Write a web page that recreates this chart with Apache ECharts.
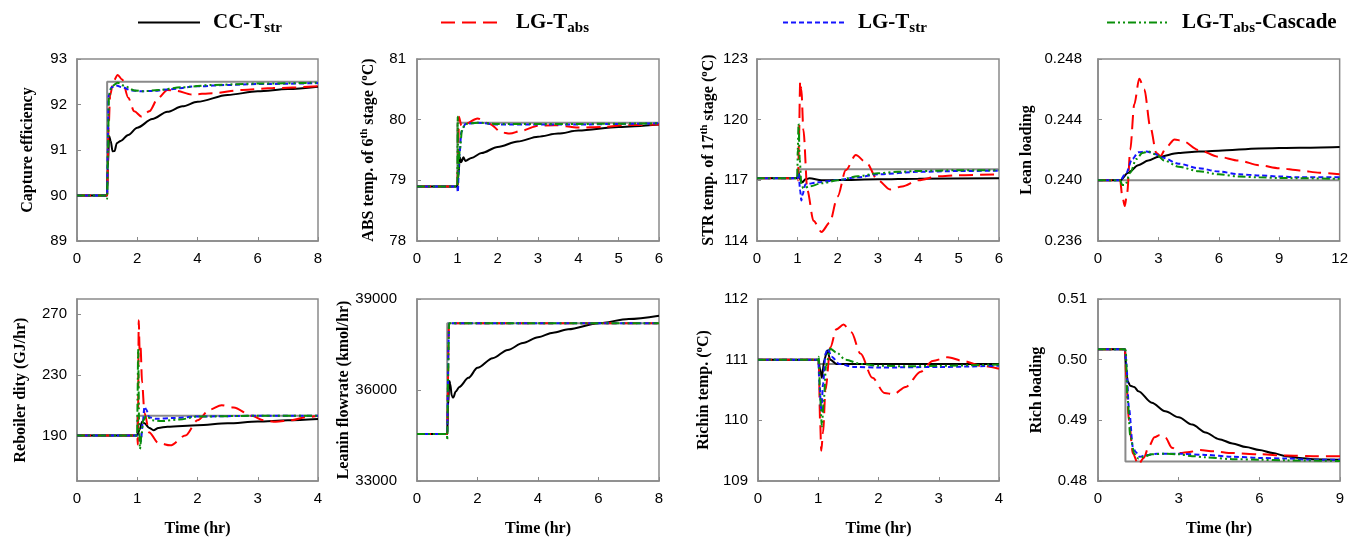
<!DOCTYPE html>
<html>
<head>
<meta charset="utf-8">
<script src="https://cdn.jsdelivr.net/npm/echarts@6/dist/echarts.min.js"></script>
<style>html,body{margin:0;padding:0;background:#fff}#c{width:1351px;height:540px}</style>
</head>
<body>
<div id="c"></div>
<script>
// ---------------- DATA ----------------
const seriesNames = ['CC-Tstr', 'LG-Tabs', 'LG-Tstr', 'LG-Tabs-Cascade'];

// Panel 1: Capture efficiency
const p1_set = [[0,90],[1,90],[1,92.5],[8,92.5]];
const p1_cc = [[0,90],[1,90],[1.02,90.6],[1.07,91.3],[1.12,91.2],[1.18,90.97],[1.25,90.98],[1.32,91.15],[1.45,91.2],[1.7,91.33],[2,91.49],[2.5,91.68],[3,91.84],[3.5,91.96],[4,92.06],[5,92.21],[6,92.29],[7,92.34],[8,92.39]];
const p1_tabs = [[0,90],[1,90],[1.05,91.5],[1.1,92.2],[1.2,92.5],[1.35,92.65],[1.5,92.55],[1.7,92.15],[1.9,91.85],[2.15,91.73],[2.4,91.85],[2.7,92.15],[3,92.32],[3.3,92.3],[3.8,92.22],[4.5,92.25],[5.5,92.32],[6.5,92.36],[8,92.4]];
const p1_tstr = [[0,90],[1,90],[1.02,91],[1.05,92.2],[1.15,92.38],[1.3,92.42],[1.5,92.38],[1.8,92.31],[2.1,92.29],[2.6,92.3],[3,92.33],[4,92.4],[5,92.43],[6,92.45],[8,92.47]];
const p1_casc = [[0,90],[0.99,90],[1,89.93],[1.03,91],[1.06,92.2],[1.15,92.4],[1.35,92.48],[1.6,92.4],[1.9,92.31],[2.2,92.29],[2.7,92.32],[3.5,92.38],[4.5,92.43],[6,92.46],[8,92.48]];

// Panel 2: ABS temp. of 6th stage
const p2_set = [[0,78.9],[1,78.9],[1,79.95],[6,79.95]];
const p2_cc = [[0,78.9],[1,78.9],[1.03,79.1],[1.06,79.38],[1.1,79.3],[1.15,79.38],[1.2,79.32],[1.35,79.37],[1.6,79.45],[2,79.55],[2.5,79.64],[3,79.72],[3.5,79.77],[4,79.82],[5,79.88],[6,79.92]];
const p2_tabs = [[0,78.9],[1,78.9],[1.02,79.4],[1.04,80.05],[1.1,79.9],[1.2,79.93],[1.5,80.02],[1.8,79.93],[2.1,79.79],[2.3,79.77],[2.6,79.82],[3,79.9],[3.4,79.91],[4,79.87],[4.6,79.88],[5.2,79.91],[6,79.92]];
const p2_tstr = [[0,78.9],[1,78.9],[1.01,78.8],[1.05,79.4],[1.1,79.8],[1.2,79.93],[1.5,79.95],[2,79.92],[3,79.92],[4,79.92],[5,79.93],[6,79.94]];
const p2_casc = [[0,78.9],[1,78.9],[1.01,80.05],[1.02,79.05],[1.06,79.5],[1.12,79.85],[1.2,79.93],[1.5,79.95],[2,79.93],[3,79.93],[4,79.93],[6,79.94]];

// Panel 3: STR temp. of 17th stage
const p3_set = [[0,117.12],[1,117.12],[1,117.55],[6,117.55]];
const p3_cc = [[0,117.1],[1,117.1],[1.03,117.4],[1.08,117.0],[1.12,116.9],[1.2,117.05],[1.3,117.1],[1.6,117.0],[2,117.02],[3,117.05],[4,117.08],[6,117.1]];
const p3_tabs = [[0,117.1],[1,117.1],[1.02,117],[1.04,119],[1.07,121.9],[1.1,121.5],[1.15,119.5],[1.25,116.5],[1.4,115],[1.6,114.45],[1.8,114.9],[2,116.2],[2.2,117.5],[2.45,118.25],[2.7,117.9],[3,117],[3.3,116.55],[3.6,116.7],[4,117.0],[4.5,117.2],[5,117.25],[6,117.3]];
const p3_tstr = [[0,117.1],[1,117.1],[1.03,117.4],[1.07,116.5],[1.1,116.0],[1.13,116.3],[1.2,116.8],[1.5,116.9],[2,117.02],[2.5,117.15],[3,117.3],[4,117.42],[5,117.46],[6,117.48]];
const p3_casc = [[0,117.1],[1,117.1],[1.01,118.5],[1.03,119.8],[1.06,118],[1.1,116.8],[1.15,116.6],[1.3,116.7],[1.6,116.85],[2,117.0],[2.5,117.2],[3,117.35],[3.5,117.42],[4,117.46],[5,117.5],[6,117.5]];

// Panel 4: Lean loading
const p4_set = [[0,0.24],[12,0.24]];
const p4_cc = [[0,0.24],[1.1,0.24],[1.5,0.2405],[2,0.2410],[2.5,0.2413],[3,0.24155],[4,0.2418],[5,0.2419],[6,0.24195],[8,0.2421],[10,0.24215],[12,0.2422]];
const p4_tabs = [[0,0.24],[1.1,0.24],[1.2,0.2390],[1.33,0.2383],[1.45,0.2392],[1.6,0.2420],[1.8,0.2450],[2.05,0.2467],[2.3,0.2460],[2.6,0.2435],[2.9,0.2418],[3.1,0.2416],[3.4,0.2422],[3.8,0.2427],[4.2,0.2426],[5,0.2420],[6,0.24155],[7,0.2413],[8,0.2410],[9,0.2408],[10,0.24065],[11,0.2405],[12,0.2404]];
const p4_tstr = [[0,0.24],[1.1,0.24],[1.4,0.2405],[1.7,0.2414],[2,0.24185],[2.4,0.2419],[2.8,0.24175],[3.2,0.2415],[4,0.2411],[5,0.2408],[6,0.24058],[7,0.2404],[8,0.24032],[9,0.24025],[10,0.2402],[12,0.2402]];
const p4_casc = [[0,0.24],[1.1,0.24],[1.2,0.2397],[1.35,0.2397],[1.6,0.2405],[1.9,0.2414],[2.2,0.2418],[2.5,0.2419],[2.9,0.2417],[3.3,0.2413],[4,0.2409],[5,0.2406],[6,0.2404],[7,0.24025],[8,0.2402],[9,0.24015],[12,0.2401]];

// Panel 5: Reboiler duty
const p5_set = [[0,190],[1,190],[1,203],[4,203]];
const p5_cc = [[0,190],[1,190],[1.04,194],[1.08,199],[1.12,198],[1.2,195],[1.27,193.5],[1.35,195],[1.5,195.8],[2,196.8],[2.5,198],[3,199.2],[3.5,200],[4,200.8]];
const p5_tabs = [[0,190],[1,190],[1.01,184],[1.025,266],[1.04,245],[1.055,248],[1.08,225],[1.12,205],[1.2,192],[1.35,185],[1.55,183.5],[1.8,190],[2,200],[2.2,207],[2.4,210],[2.6,208.5],[2.9,203],[3.1,200],[3.3,199],[3.55,200],[3.8,202],[4,203]];
const p5_tstr = [[0,190],[1,190],[1.03,188],[1.06,186],[1.09,198],[1.12,209],[1.15,207],[1.2,202],[1.3,201],[1.6,201.5],[2,202.5],[3,203],[4,203]];
const p5_casc = [[0,190],[1,190],[1.005,215],[1.015,247],[1.03,200],[1.045,181],[1.07,190],[1.1,200],[1.15,203],[1.25,200],[1.4,199.5],[1.7,200.5],[2,202.5],[3,203],[4,203]];

// Panel 6: Leanin flowrate
const p6_set = [[0,34550],[1,34550],[1,38200],[8,38200]];
const p6_cc = [[0,34550],[1,34550],[1.03,35500],[1.07,36300],[1.1,36200],[1.15,35800],[1.2,35750],[1.28,35950],[1.4,36100],[1.7,36400],[2,36730],[2.5,37050],[3,37320],[3.5,37550],[4,37740],[4.5,37890],[5,38000],[6,38200],[7,38340],[8,38450]];
const p6_tabs = [[0,34550],[1,34550],[1.02,36000],[1.04,37500],[1.06,38200],[8,38200]];
const p6_tstr = [[0,34550],[1,34550],[1.02,36000],[1.04,37500],[1.06,38200],[8,38200]];
const p6_casc = [[0,34550],[0.99,34550],[1,34350],[1.03,36500],[1.06,38200],[8,38200]];

// Panel 7: Richin temp.
const p7_set = [[0,111],[1,111],[1,110.93],[4,110.93]];
const p7_cc = [[0,111],[1,111],[1.03,110.85],[1.06,110.7],[1.1,111.0],[1.15,111.15],[1.2,111.0],[1.3,110.93],[2,110.93],[4,110.93]];
const p7_tabs = [[0,111],[1,111],[1.01,110.9],[1.03,110],[1.05,109.5],[1.08,109.8],[1.12,110.5],[1.2,111.2],[1.3,111.5],[1.42,111.58],[1.55,111.45],[1.7,111.1],[1.9,110.7],[2.1,110.45],[2.25,110.43],[2.45,110.55],[2.7,110.8],[2.9,110.98],[3.15,111.04],[3.4,110.98],[3.7,110.9],[4,110.85]];
const p7_tstr = [[0,111],[1,111],[1.02,110.6],[1.05,110.15],[1.08,110.6],[1.12,111.1],[1.16,111.18],[1.22,111.05],[1.35,110.93],[1.6,110.88],[2,110.87],[3,110.88],[4,110.9]];
const p7_casc = [[0,111],[1,111],[1.01,111.05],[1.03,110.4],[1.06,109.9],[1.09,110.3],[1.13,110.9],[1.2,111.18],[1.3,111.12],[1.45,111.0],[1.7,110.93],[2,110.9],[2.5,110.89],[3,110.9],[4,110.92]];

// Panel 8: Rich loading
const p8_set = [[0,0.5017],[1.02,0.5017],[1.02,0.4832],[9,0.4832]];
const p8_cc = [[0,0.5017],[1,0.5017],[1.05,0.4985],[1.1,0.4965],[1.2,0.4957],[1.35,0.4955],[1.5,0.4948],[2,0.4929],[2.5,0.4915],[3,0.4905],[3.5,0.4893],[4,0.4880],[4.5,0.4869],[5,0.4862],[5.5,0.4856],[6,0.4851],[6.5,0.4846],[7,0.4841],[7.5,0.4838],[8,0.4836],[9,0.4835]];
const p8_tabs = [[0,0.5017],[1,0.5017],[1.05,0.497],[1.15,0.490],[1.3,0.4845],[1.5,0.4827],[1.7,0.4838],[1.9,0.4858],[2.1,0.4872],[2.3,0.4876],[2.5,0.4872],[2.75,0.4855],[3.05,0.4846],[3.4,0.4848],[3.8,0.4851],[4.3,0.4849],[5,0.4846],[6,0.4844],[7,0.4842],[8,0.4841],[9,0.4841]];
const p8_tstr = [[0,0.5017],[1,0.5017],[1.05,0.4995],[1.15,0.492],[1.3,0.4855],[1.4,0.4848],[1.55,0.4840],[1.8,0.4843],[2.2,0.4845],[3,0.4845],[4,0.4843],[5,0.4840],[6,0.4838],[7,0.4837],[8,0.4835],[9,0.4835]];
const p8_casc = [[0,0.5017],[1,0.5017],[1.03,0.5015],[1.1,0.4935],[1.2,0.4875],[1.35,0.4845],[1.5,0.4837],[1.7,0.4840],[2,0.4844],[2.5,0.4845],[3,0.4844],[3.5,0.4841],[4,0.4839],[5,0.4836],[6,0.4835],[7,0.4834],[9,0.4833]];

// Axis ranges / ticks
const xMax = [8, 6, 6, 12, 4, 8, 4, 9];
const xStep = [2, 1, 1, 3, 1, 2, 1, 3];
const yMin = [89, 78, 114, 0.236, 160, 33000, 109, 0.48];
const yMax = [93, 81, 123, 0.248, 280, 39000, 112, 0.51];
const yStep = [1, 1, 3, 0.004, null, 3000, 1, 0.01];
const yTicks5 = [190, 230, 270];
const yDecimals = [0, 0, 0, 3, 0, 0, 0, 2];
const yNames = [
  '{t|Capture efficiency}',
  '{t|ABS temp. of 6}{sup|th}{t| stage (}{sup|o}{t|C)}',
  '{t|STR temp. of 17}{sup|th}{t| stage (}{sup|o}{t|C)}',
  '{t|Lean loading}',
  '{t|Reboiler dity (GJ/hr)}',
  '{t|Leanin flowrate (kmol/hr)}',
  '{t|Richin temp. (}{sup|o}{t|C)}',
  '{t|Rich loading}'
];
const xName = 'Time (hr)';

const panels = [
  [p1_set, p1_cc, p1_tabs, p1_tstr, p1_casc],
  [p2_set, p2_cc, p2_tabs, p2_tstr, p2_casc],
  [p3_set, p3_cc, p3_tabs, p3_tstr, p3_casc],
  [p4_set, p4_cc, p4_tabs, p4_tstr, p4_casc],
  [p5_set, p5_cc, p5_tabs, p5_tstr, p5_casc],
  [p6_set, p6_cc, p6_tabs, p6_tstr, p6_casc],
  [p7_set, p7_cc, p7_tabs, p7_tstr, p7_casc],
  [p8_set, p8_cc, p8_tabs, p8_tstr, p8_casc]
];

// ---------------- LAYOUT / STYLE ----------------
const SERIF = '"Liberation Serif", "Times New Roman", serif';
const SANS = '"Liberation Sans", Arial, sans-serif';
const GRAY = '#8a8a8a';
const grids = [
  {left: 77, top: 59, width: 241, height: 182},
  {left: 417, top: 59, width: 242, height: 182},
  {left: 757, top: 59, width: 242, height: 182},
  {left: 1098, top: 59, width: 242, height: 182},
  {left: 77, top: 299, width: 241, height: 182},
  {left: 417, top: 299, width: 242, height: 182},
  {left: 758, top: 299, width: 241, height: 182},
  {left: 1098, top: 299, width: 242, height: 182}
];
const nameGaps = [39, 38, 38, 61, 46, 61, 44, 51];
const labelMargins = [10, 11, 9, 16, 10, 20, 10, 11];

const styles = [
  {color: '#000000', width: 2, type: 'solid'},
  {color: '#ff0000', width: 2, type: [14, 7]},
  {color: '#1414ff', width: 2, type: [5, 3]},
  {color: '#0a8f0a', width: 2, type: [8, 3, 2, 3, 2, 3]}
];

const nameRich = {
  t: {fontFamily: SERIF, fontWeight: 'bold', fontSize: 16, lineHeight: 20, color: '#000'},
  sup: {fontFamily: SERIF, fontWeight: 'bold', fontSize: 11, lineHeight: 11, verticalAlign: 'top', color: '#000'}
};

const xAxes = [], yAxes = [], series = [];
for (let i = 0; i < 8; i++) {
  xAxes.push({
    type: 'value', gridIndex: i, min: 0, max: xMax[i], interval: xStep[i],
    name: i >= 4 ? xName : '', nameLocation: 'middle', nameGap: 40,
    nameTextStyle: {fontFamily: SERIF, fontWeight: 'bold', fontSize: 16, color: '#000'},
    axisLine: {show: true, lineStyle: {color: GRAY, width: 1.5}},
    axisTick: {show: true, inside: true, length: 4, lineStyle: {color: GRAY}},
    axisLabel: {fontFamily: SANS, fontSize: 15, color: '#000', margin: 10},
    splitLine: {show: false}
  });
  const dec = yDecimals[i];
  const ya = {
    type: 'value', gridIndex: i, min: yMin[i], max: yMax[i],
    name: yNames[i], nameLocation: 'middle', nameGap: nameGaps[i], nameRotate: 90,
    nameTextStyle: {rich: nameRich},
    axisLine: {show: true, lineStyle: {color: GRAY, width: 1.5}},
    axisTick: {show: true, inside: true, length: 4, lineStyle: {color: GRAY}},
    axisLabel: {fontFamily: SANS, fontSize: 15, color: '#000', margin: labelMargins[i],
      formatter: v => Number(v).toFixed(dec)},
    splitLine: {show: false}
  };
  if (yStep[i] !== null) {
    ya.interval = yStep[i];
  } else {
    ya.axisLabel.customValues = yTicks5;
    ya.axisTick.customValues = yTicks5;
  }
  yAxes.push(ya);

  const d = panels[i];
  series.push({
    type: 'line', name: 'Setpoint', data: d[0], xAxisIndex: i, yAxisIndex: i,
    symbol: 'none', lineStyle: {color: GRAY, width: 2}, itemStyle: {color: GRAY}, z: 2, silent: true
  });
  const order = [0, 1, 3, 2]; // draw CC, Tabs, Cascade, Tstr
  order.forEach(k => {
    series.push({
      type: 'line', name: seriesNames[k], data: d[k + 1], xAxisIndex: i, yAxisIndex: i,
      symbol: 'none', smooth: 0.3, smoothMonotone: 'x',
      lineStyle: {color: styles[k].color, width: styles[k].width, type: styles[k].type},
      itemStyle: {color: styles[k].color}, z: 3 + k, silent: true
    });
  });
}

const legendRich = {
  t: {fontFamily: SERIF, fontWeight: 'bold', fontSize: 21, lineHeight: 26, color: '#000'},
  s: {fontFamily: SERIF, fontWeight: 'bold', fontSize: 15, lineHeight: 15, verticalAlign: 'bottom', color: '#000'}
};
const legendText = {
  'CC-Tstr': '{t|CC-T}{s|str}',
  'LG-Tabs': '{t|LG-T}{s|abs}',
  'LG-Tstr': '{t|LG-T}{s|str}',
  'LG-Tabs-Cascade': '{t|LG-T}{s|abs}{t|-Cascade}'
};
const legendLeft = [137, 440, 782, 1106];
const legends = seriesNames.map((n, k) => ({
  data: [n], left: legendLeft[k], top: 12, padding: 0, itemWidth: 62, itemHeight: 14,
  selectedMode: false,
  itemStyle: {opacity: 0},
  formatter: name => legendText[name],
  textStyle: {rich: legendRich, padding: [0, 0, 0, 8]}
}));

const chart = echarts.init(document.getElementById('c'), null, {renderer: 'canvas'});
chart.setOption({
  animation: false,
  backgroundColor: '#fff',
  legend: legends,
  grid: grids.map(g => Object.assign({show: true, borderColor: GRAY, borderWidth: 1.5, backgroundColor: 'transparent'}, g)),
  xAxis: xAxes,
  yAxis: yAxes,
  series: series
});
</script>
</body>
</html>
